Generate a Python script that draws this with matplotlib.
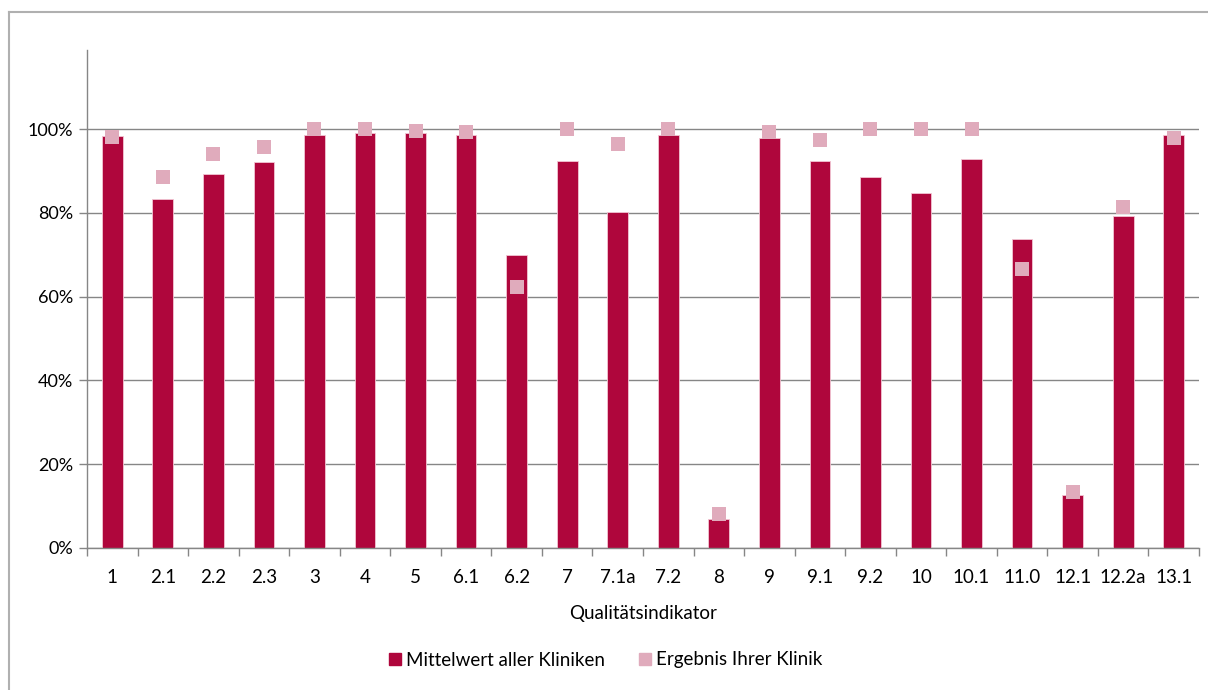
import matplotlib.pyplot as plt
import numpy as np
from matplotlib.lines import Line2D
from matplotlib.ticker import PercentFormatter

plt.rcParams["font.family"] = ["Lato", "DejaVu Sans"]

categories = ["1", "2.1", "2.2", "2.3", "3", "4", "5", "6.1", "6.2", "7", "7.1a",
              "7.2", "8", "9", "9.1", "9.2", "10", "10.1", "11.0", "12.1", "12.2a", "13.1"]
mittelwert = [98.4, 83.3, 89.4, 92.2, 98.6, 99.1, 99.1, 98.7, 69.9, 92.5, 80.2,
              98.7, 6.9, 97.9, 92.5, 88.5, 84.8, 92.8, 73.7, 12.6, 79.3, 98.5]
ihre_klinik = [98.2, 88.6, 94.0, 95.7, 100.0, 100.0, 99.5, 99.3, 62.4, 100.0, 96.4,
               100.0, 8.1, 99.3, 97.4, 100.0, 100.0, 100.0, 66.7, 13.3, 81.4, 97.9]

bar_color = "#AF063C"
marker_color = "#E0ABBC"
axis_color = "#868686"

fig = plt.figure(figsize=(12.08, 6.90), dpi=100)
ax = fig.add_axes([87 / 1208, 1 - 548 / 690, (1199 - 87) / 1208, (548 - 50) / 690])

x = np.arange(len(categories))
ax.bar(x, mittelwert, width=0.41, color=bar_color, edgecolor="#f2c6d3",
       linewidth=0.6, zorder=2)
ax.plot(x, ihre_klinik, linestyle="none", marker="s", markersize=10,
        color=marker_color, markeredgewidth=0, zorder=3)

ax.set_xlim(-0.5, len(categories) - 0.5)
ax.set_ylim(0, 118.9)
ax.set_yticks(np.arange(0, 101, 20))
ax.yaxis.set_major_formatter(PercentFormatter(decimals=0))
ax.grid(axis="y", color=axis_color, linewidth=1.0, zorder=0)

ax.set_xticks(x)
ax.set_xticklabels(categories)
ax.set_xticks(np.arange(len(categories) + 1) - 0.5, minor=True)
ax.tick_params(axis="x", which="major", length=0, labelsize=13.5, pad=15)
ax.tick_params(axis="x", which="minor", length=6, color=axis_color, width=1)
ax.tick_params(axis="y", length=6, color=axis_color, width=1, labelsize=13, pad=4)

for side in ["top", "right"]:
    ax.spines[side].set_visible(False)
for side in ["left", "bottom"]:
    ax.spines[side].set_color(axis_color)
    ax.spines[side].set_linewidth(1.0)

ax.set_xlabel("Qualitätsindikator", fontsize=13.5, labelpad=14)

handles = [
    Line2D([], [], linestyle="none", marker="s", markersize=8, color=bar_color,
           label="Mittelwert aller Kliniken"),
    Line2D([], [], linestyle="none", marker="s", markersize=8, color=marker_color,
           label="Ergebnis Ihrer Klinik"),
]
fig.legend(handles=handles, loc="center", bbox_to_anchor=(0.5, 1 - 660 / 690),
           ncol=2, frameon=False, fontsize=13.5, handletextpad=0.1,
           columnspacing=1.6, handlelength=1.0)

# outer chart border (only left and top edges are inside the picture)
fig.add_artist(Line2D([9 / 1208, 9 / 1208], [0, 1 - 12 / 690],
                      transform=fig.transFigure, color="#b0b0b0", linewidth=1.5))
fig.add_artist(Line2D([9 / 1208, 1], [1 - 12 / 690, 1 - 12 / 690],
                      transform=fig.transFigure, color="#b0b0b0", linewidth=1.5))

fig.savefig("out.png", dpi=100)
